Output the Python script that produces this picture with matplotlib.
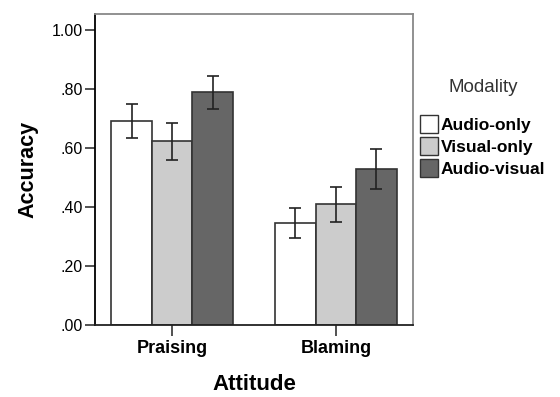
import numpy as np
import matplotlib
matplotlib.use('Agg')
import matplotlib.pyplot as plt
from matplotlib.patches import Patch

plt.rcParams['font.family'] = ['Liberation Sans', 'DejaVu Sans']

# Дані
attitudes = ['Praising', 'Blaming']
modalities = ['Audio-only', 'Visual-only', 'Audio-visual']
accuracy = {
    'Audio-only': [0.690, 0.347],
    'Visual-only': [0.624, 0.410],
    'Audio-visual': [0.790, 0.529],
}
err_low = {
    'Audio-only': [0.635, 0.296],
    'Visual-only': [0.559, 0.350],
    'Audio-visual': [0.732, 0.461],
}
err_high = {
    'Audio-only': [0.748, 0.398],
    'Visual-only': [0.684, 0.469],
    'Audio-visual': [0.845, 0.596],
}
colors = ['#ffffff', '#cccccc', '#666666']
yticks = [0.0, 0.2, 0.4, 0.6, 0.8, 1.0]
ytick_labels = ['.00', '.20', '.40', '.60', '.80', '1.00']

fig = plt.figure(figsize=(5.6, 3.97), dpi=100)
ax = fig.add_axes([95 / 560, 1 - 325 / 397, 318 / 560, 311 / 397])

x = np.arange(len(attitudes))
width = 0.247
for i, m in enumerate(modalities):
    pos = x + (i - 1) * width
    vals = np.array(accuracy[m])
    yerr = [vals - np.array(err_low[m]), np.array(err_high[m]) - vals]
    ax.bar(pos, vals, width, color=colors[i], edgecolor='#333333', linewidth=1.2, zorder=2)
    ax.errorbar(pos, vals, yerr=yerr, fmt='none', ecolor='#222222',
                elinewidth=1.2, capsize=4, capthick=1.2, zorder=3)

ax.set_xlim(-0.47, 1.47)
ax.set_ylim(0, 1.054)
ax.set_xticks(x)
ax.set_xticklabels(attitudes, fontsize=13, fontweight='bold')
ax.set_yticks(yticks)
ax.set_yticklabels(ytick_labels, fontsize=11.5)
ax.tick_params(axis='both', direction='out', length=7, width=1.2, color='#333333', pad=2)
ax.tick_params(axis='x', length=8, pad=3)

ax.spines['left'].set_color('#000000')
ax.spines['bottom'].set_color('#222222')
ax.spines['top'].set_color('#888888')
ax.spines['right'].set_color('#888888')
for s in ax.spines.values():
    s.set_linewidth(1.3)

ax.set_ylabel('Accuracy', fontsize=15.5, fontweight='bold', labelpad=9)
ax.set_xlabel('Attitude', fontsize=16, fontweight='bold', labelpad=12)

handles = [Patch(facecolor=colors[i], edgecolor='#333333', label=m) for i, m in enumerate(modalities)]
leg = fig.legend(handles=handles, loc='center left',
                 bbox_to_anchor=(411 / 560, 1 - 146 / 397), frameon=False,
                 prop={'weight': 'bold', 'size': 12.5},
                 handlelength=1.05, handleheight=1.25, handletextpad=0.15,
                 labelspacing=0.2, borderpad=0)
fig.text(483 / 560, 1 - 88 / 397, 'Modality', ha='center', va='center',
         fontsize=13.5, color='#333333')

plt.savefig('out.png', dpi=100)
plt.close()
